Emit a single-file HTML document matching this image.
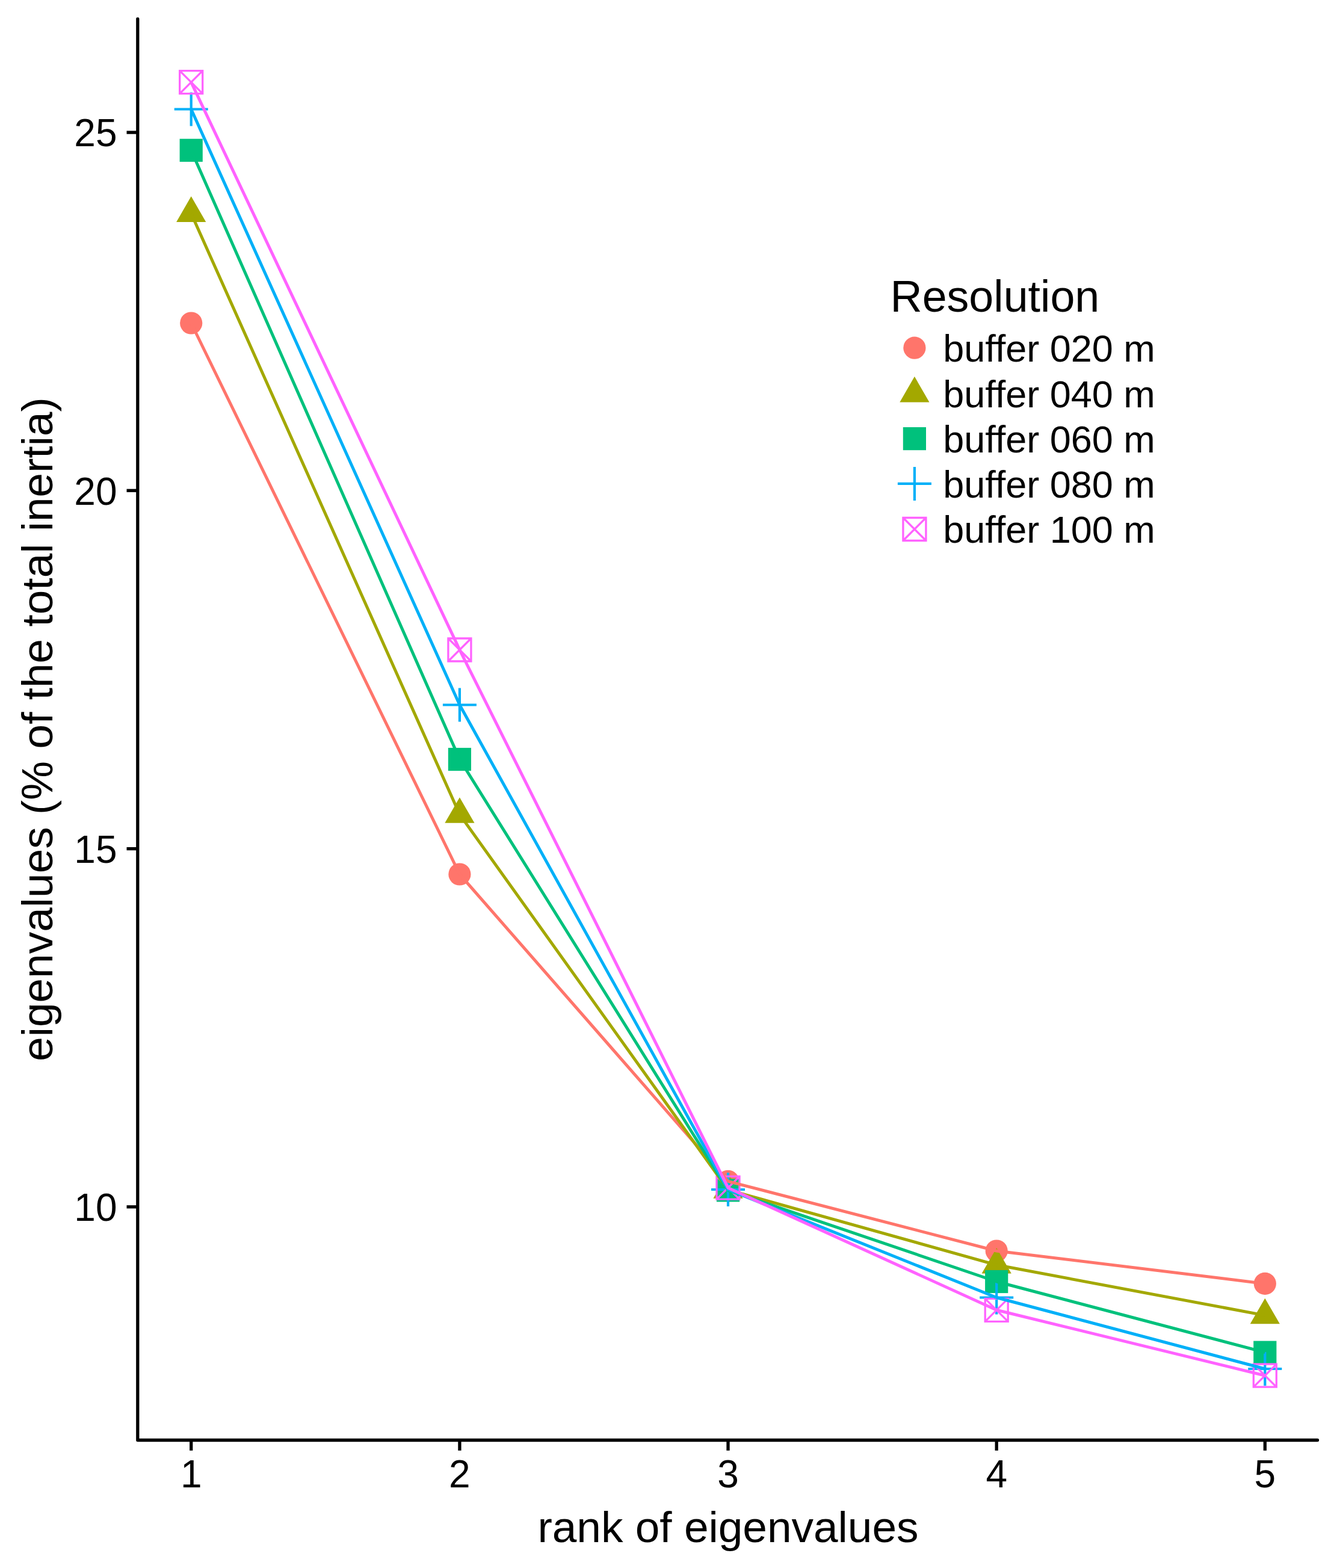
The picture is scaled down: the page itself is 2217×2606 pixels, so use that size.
<!DOCTYPE html>
<html><head><meta charset="utf-8"><title>eigenvalues</title>
<style>
html,body{margin:0;padding:0;background:#fff;}
svg{display:block;}
.t{font-family:"Liberation Sans",Arial,Helvetica,sans-serif;font-size:64px;fill:#000;}
.l{font-family:"Liberation Sans",Arial,Helvetica,sans-serif;font-size:63px;fill:#000;}
.tt{font-family:"Liberation Sans",Arial,Helvetica,sans-serif;font-size:73px;fill:#000;}
</style></head>
<body>
<svg width="2217" height="2606" viewBox="0 0 2217 2606">
<rect width="2217" height="2606" fill="#fff"/>
<path d="M228.8,31.5V2393.5H2189.5" stroke="#000" stroke-width="5.3" fill="none" stroke-linecap="round" stroke-linejoin="round"/>
<line x1="210.5" y1="220.1" x2="228.8" y2="220.1" stroke="#000" stroke-width="5.3"/>
<text x="194.5" y="243.3" text-anchor="end" class="t">25</text>
<line x1="210.5" y1="815.3" x2="228.8" y2="815.3" stroke="#000" stroke-width="5.3"/>
<text x="194.5" y="838.5" text-anchor="end" class="t">20</text>
<line x1="210.5" y1="1410.6" x2="228.8" y2="1410.6" stroke="#000" stroke-width="5.3"/>
<text x="194.5" y="1433.8" text-anchor="end" class="t">15</text>
<line x1="210.5" y1="2005.8" x2="228.8" y2="2005.8" stroke="#000" stroke-width="5.3"/>
<text x="194.5" y="2029.0" text-anchor="end" class="t">10</text>
<line x1="317.7" y1="2393.5" x2="317.7" y2="2410.8" stroke="#000" stroke-width="5.3"/>
<text x="317.7" y="2471.8" text-anchor="middle" class="t">1</text>
<line x1="763.9" y1="2393.5" x2="763.9" y2="2410.8" stroke="#000" stroke-width="5.3"/>
<text x="763.9" y="2471.8" text-anchor="middle" class="t">2</text>
<line x1="1210.0" y1="2393.5" x2="1210.0" y2="2410.8" stroke="#000" stroke-width="5.3"/>
<text x="1210.0" y="2471.8" text-anchor="middle" class="t">3</text>
<line x1="1656.2" y1="2393.5" x2="1656.2" y2="2410.8" stroke="#000" stroke-width="5.3"/>
<text x="1656.2" y="2471.8" text-anchor="middle" class="t">4</text>
<line x1="2102.3" y1="2393.5" x2="2102.3" y2="2410.8" stroke="#000" stroke-width="5.3"/>
<text x="2102.3" y="2471.8" text-anchor="middle" class="t">5</text>
<text x="1210" y="2563" text-anchor="middle" class="tt">rank of eigenvalues</text>
<text transform="translate(86.5,1212) rotate(-90)" x="0" y="0" text-anchor="middle" class="tt">eigenvalues (% of the total inertia)</text>
<circle cx="317.7" cy="537.0" r="18.6" fill="#FF756B"/>
<circle cx="763.9" cy="1453.0" r="18.6" fill="#FF756B"/>
<circle cx="1210.0" cy="1963.3" r="18.6" fill="#FF756B"/>
<circle cx="1656.2" cy="2079.0" r="18.6" fill="#FF756B"/>
<circle cx="2102.3" cy="2133.4" r="18.6" fill="#FF756B"/>
<polygon points="317.7,326.3 342.3,368.9 293.1,368.9" fill="#A3A800"/>
<polygon points="763.9,1325.2 788.5,1367.8 739.3,1367.8" fill="#A3A800"/>
<polygon points="1210.0,1949.2 1234.6,1991.8 1185.4,1991.8" fill="#A3A800"/>
<polygon points="1656.2,2073.9 1680.8,2116.5 1631.6,2116.5" fill="#A3A800"/>
<polygon points="2102.3,2157.7 2126.9,2200.3 2077.7,2200.3" fill="#A3A800"/>
<rect x="298.6" y="230.7" width="38.2" height="38.2" fill="#00C17C"/>
<rect x="744.8" y="1242.9" width="38.2" height="38.2" fill="#00C17C"/>
<rect x="1190.9" y="1959.2" width="38.2" height="38.2" fill="#00C17C"/>
<rect x="1637.1" y="2110.9" width="38.2" height="38.2" fill="#00C17C"/>
<rect x="2083.2" y="2228.6" width="38.2" height="38.2" fill="#00C17C"/>
<path d="M289.7,181.5H345.7M317.7,153.5V209.5" stroke="#00B0F8" stroke-width="4.2" fill="none"/>
<path d="M735.9,1171.5H791.9M763.9,1143.5V1199.5" stroke="#00B0F8" stroke-width="4.2" fill="none"/>
<path d="M1182.0,1977.0H1238.0M1210.0,1949.0V2005.0" stroke="#00B0F8" stroke-width="4.2" fill="none"/>
<path d="M1628.2,2156.5H1684.2M1656.2,2128.5V2184.5" stroke="#00B0F8" stroke-width="4.2" fill="none"/>
<path d="M2074.3,2275.0H2130.3M2102.3,2247.0V2303.0" stroke="#00B0F8" stroke-width="4.2" fill="none"/>
<path d="M298.7,117.6H336.7V155.6H298.7Z M298.7,117.6L336.7,155.6M336.7,117.6L298.7,155.6" stroke="#FF62FF" stroke-width="3.3" fill="none" stroke-linejoin="miter"/>
<path d="M744.9,1061.0H782.9V1099.0H744.9Z M744.9,1061.0L782.9,1099.0M782.9,1061.0L744.9,1099.0" stroke="#FF62FF" stroke-width="3.3" fill="none" stroke-linejoin="miter"/>
<path d="M1191.0,1955.2H1229.0V1993.2H1191.0Z M1191.0,1955.2L1229.0,1993.2M1229.0,1955.2L1191.0,1993.2" stroke="#FF62FF" stroke-width="3.3" fill="none" stroke-linejoin="miter"/>
<path d="M1637.2,2158.3H1675.2V2196.3H1637.2Z M1637.2,2158.3L1675.2,2196.3M1675.2,2158.3L1637.2,2196.3" stroke="#FF62FF" stroke-width="3.3" fill="none" stroke-linejoin="miter"/>
<path d="M2083.3,2267.2H2121.3V2305.2H2083.3Z M2083.3,2267.2L2121.3,2305.2M2121.3,2267.2L2083.3,2305.2" stroke="#FF62FF" stroke-width="3.3" fill="none" stroke-linejoin="miter"/>
<polyline points="317.7,537.0 763.9,1453.0 1210.0,1963.3 1656.2,2079.0 2102.3,2133.4" stroke="#FF756B" stroke-width="5.0" fill="none" stroke-linejoin="round"/>
<polyline points="317.7,354.7 763.9,1353.6 1210.0,1977.6 1656.2,2102.3 2102.3,2186.1" stroke="#A3A800" stroke-width="5.0" fill="none" stroke-linejoin="round"/>
<polyline points="317.7,249.8 763.9,1262.0 1210.0,1978.3 1656.2,2130.0 2102.3,2247.7" stroke="#00C17C" stroke-width="5.0" fill="none" stroke-linejoin="round"/>
<polyline points="317.7,181.5 763.9,1171.5 1210.0,1977.0 1656.2,2156.5 2102.3,2275.0" stroke="#00B0F8" stroke-width="5.0" fill="none" stroke-linejoin="round"/>
<polyline points="317.7,136.6 763.9,1080.0 1210.0,1974.2 1656.2,2177.3 2102.3,2286.2" stroke="#FF62FF" stroke-width="5.0" fill="none" stroke-linejoin="round"/>
<text x="1479.5" y="518.2" class="tt" style="font-size:73.6px">Resolution</text>
<circle cx="1519.9" cy="578.2" r="18.6" fill="#FF756B"/>
<text x="1567.2" y="600.8" class="l">buffer 020 m</text>
<polygon points="1519.9,625.8 1544.5,668.4 1495.3,668.4" fill="#A3A800"/>
<text x="1567.2" y="676.8" class="l">buffer 040 m</text>
<rect x="1500.8" y="710.0" width="38.2" height="38.2" fill="#00C17C"/>
<text x="1567.2" y="751.7" class="l">buffer 060 m</text>
<path d="M1491.9,803.9H1547.9M1519.9,775.9V831.9" stroke="#00B0F8" stroke-width="4.2" fill="none"/>
<text x="1567.2" y="826.5" class="l">buffer 080 m</text>
<path d="M1500.9,860.5H1538.9V898.5H1500.9Z M1500.9,860.5L1538.9,898.5M1538.9,860.5L1500.9,898.5" stroke="#FF62FF" stroke-width="3.3" fill="none" stroke-linejoin="miter"/>
<text x="1567.2" y="902.1" class="l">buffer 100 m</text>
</svg>
</body></html>
